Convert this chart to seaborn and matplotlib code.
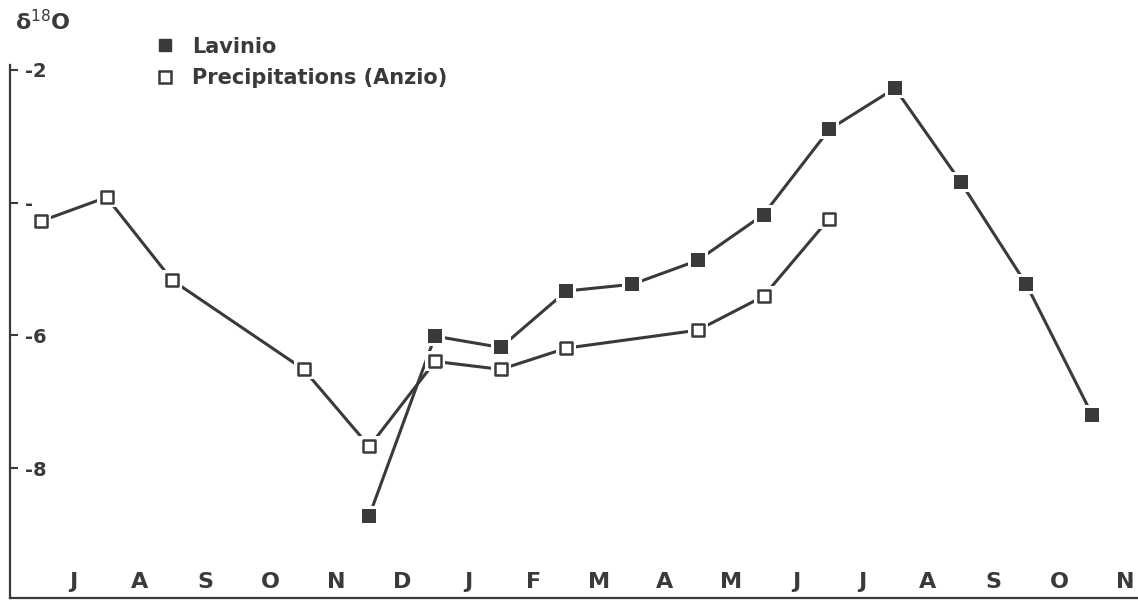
import numpy as np
import pandas as pd
import matplotlib
matplotlib.use('Agg')
import matplotlib.pyplot as plt
import seaborn as sns
from matplotlib.lines import Line2D

# month labels along the bottom (July .. November of the following year)
months = ['J', 'A', 'S', 'O', 'N', 'D', 'J', 'F', 'M', 'A', 'M', 'J', 'J', 'A', 'S', 'O', 'N']

# sample positions are month indices (0 = first July)
anzio_idx = [0, 1, 2, 4, 5, 6, 7, 8, 10, 11, 12]
anzio_d18o = [-4.28, -3.92, -5.17, -6.51, -7.67, -6.39, -6.51, -6.19, -5.92, -5.41, -4.24]

lavinio_idx = [5, 6, 7, 8, 9, 10, 11, 12, 13, 14, 15, 16]
lavinio_d18o = [-8.71, -6.01, -6.18, -5.33, -5.23, -4.87, -4.18, -2.90, -2.28, -3.69, -5.23, -7.19]

ytick_vals = [-8, -6, -4, -2]
ytick_labels = ['-8', '-6', '-', '-2']

legend_labels = ['Lavinio', 'Precipitations (Anzio)']

if __name__ == '__main__':
    sns.set_style('white')
    plt.rcParams['font.family'] = ['DejaVu Sans']
    ink = '#3a3a3a'

    anzio = pd.DataFrame({'month': anzio_idx, 'd18O': anzio_d18o})
    lav = pd.DataFrame({'month': lavinio_idx, 'd18O': lavinio_d18o})

    fig = plt.figure(figsize=(11.38, 6), dpi=100)
    ax = fig.add_axes([10 / 1138, 2 / 600, 1128 / 1138, 533 / 600])

    # lines first, then white halos so the lines stop short of the squares
    for df in (anzio, lav):
        sns.lineplot(data=df, x='month', y='d18O', color=ink, lw=2.2, ax=ax, sort=False)
        sns.scatterplot(data=df, x='month', y='d18O', marker='s', s=190, color='white',
                        linewidth=0, ax=ax, zorder=3)
    sns.scatterplot(data=anzio, x='month', y='d18O', marker='s', s=80, color='white',
                    edgecolor=ink, linewidth=1.8, ax=ax, zorder=4)
    sns.scatterplot(data=lav, x='month', y='d18O', marker='s', s=90, color=ink,
                    linewidth=0, ax=ax, zorder=4)

    ax.set_xlim(-0.47, 16.7)
    ax.set_ylim(-9.95, -1.93)
    ax.set_xlabel('')
    ax.set_ylabel('')

    for side in ['top', 'right']:
        ax.spines[side].set_visible(False)
    for side in ['left', 'bottom']:
        ax.spines[side].set_color(ink)
        ax.spines[side].set_linewidth(1.6)

    ax.set_xticks(np.arange(len(months)) + 0.5, months)
    ax.tick_params(axis='x', bottom=True, length=0, pad=-7, labelsize=16, labelcolor=ink)
    for t in ax.get_xticklabels():
        t.set_fontweight('bold')
        t.set_verticalalignment('baseline')

    ax.set_yticks(ytick_vals, ytick_labels)
    ax.tick_params(axis='y', left=True, direction='in', length=6, width=1.5, color=ink,
                   pad=-11, labelsize=14, labelcolor=ink)
    for t in ax.get_yticklabels():
        t.set_fontweight('bold')
        t.set_horizontalalignment('left')

    handles = [
        Line2D([], [], ls='none', marker='s', ms=9, color=ink),
        Line2D([], [], ls='none', marker='s', ms=8, mfc='white', mec=ink, mew=1.8),
    ]
    ax.legend(handles, legend_labels, loc='upper left', bbox_to_anchor=(0.1285, 1.053),
              frameon=False, prop={'weight': 'bold', 'size': 15}, labelcolor=ink,
              handletextpad=0.8, labelspacing=0.55, borderaxespad=0, borderpad=0,
              handlelength=1)

    fig.text(15 / 1138, 1 - 22 / 600, 'δ$^{18}$O', fontsize=16, va='center', ha='left',
             color=ink, fontweight='bold')

    fig.savefig('out.png', dpi=100)
